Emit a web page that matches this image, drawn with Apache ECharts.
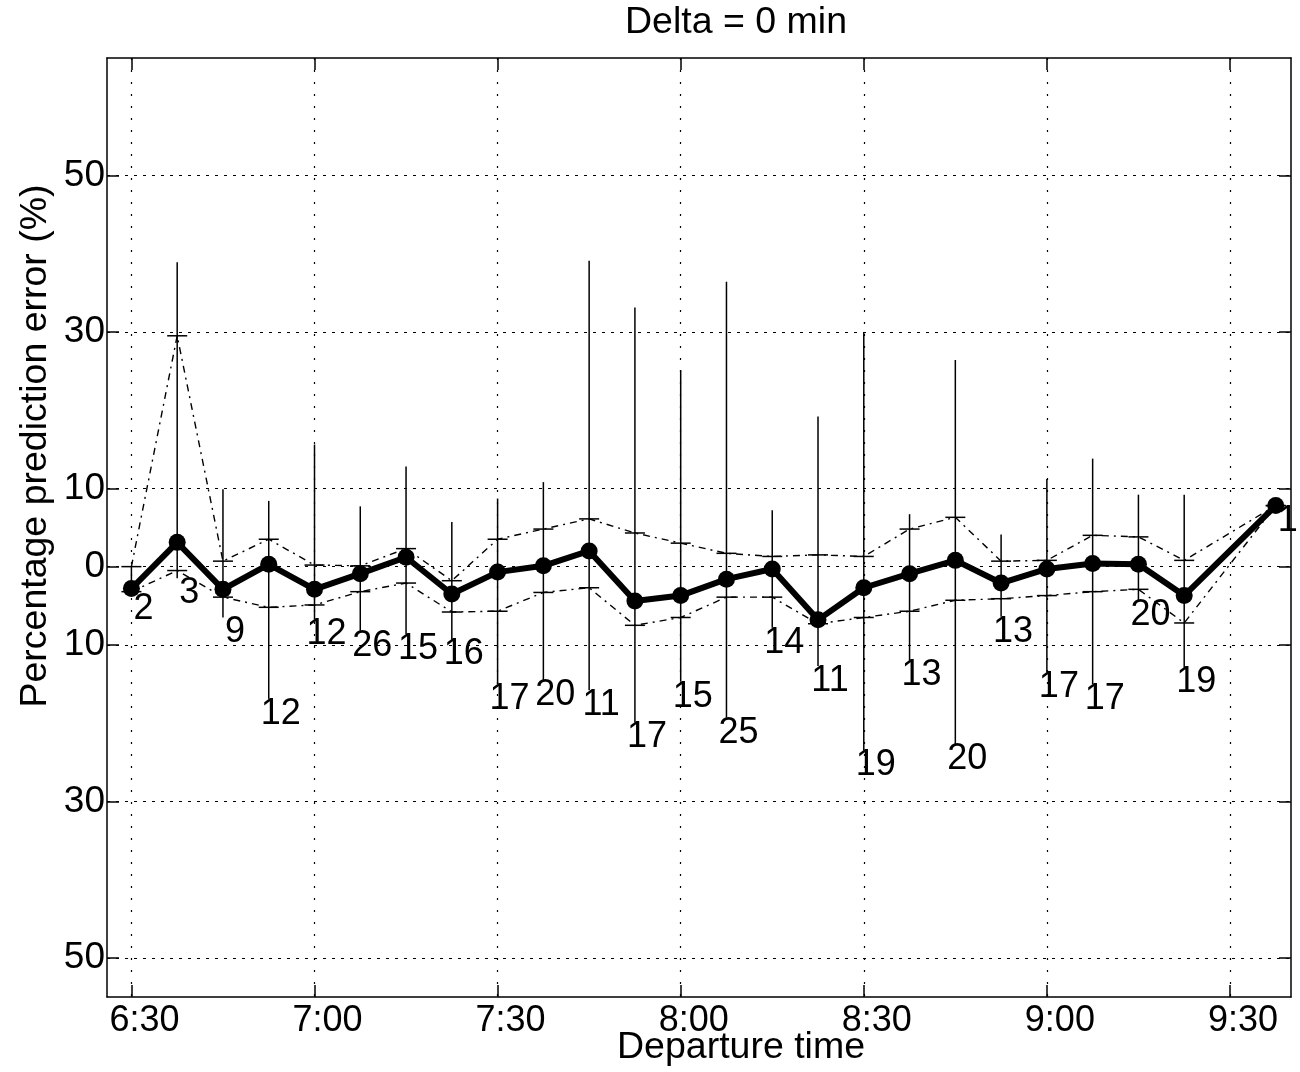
<!DOCTYPE html>
<html>
<head>
<meta charset="utf-8">
<script src="https://cdn.jsdelivr.net/npm/echarts@6/dist/echarts.min.js"></script>
<style>
  html, body { margin: 0; padding: 0; background: #fff; }
  #chart { width: 1300px; height: 1072px; }
</style>
</head>
<body>
<div id="chart"></div>
<script>
// ---- data (departure time in minutes after midnight) ----
const depMinutes = [390, 397.5, 405, 412.5, 420, 427.5, 435, 442.5, 450, 457.5, 465, 472.5, 480,
                    487.5, 495, 502.5, 510, 517.5, 525, 532.5, 540, 547.5, 555, 562.5, 577.5];
const counts   = [2, 3, 9, 12, 12, 26, 15, 16, 17, 20, 11, 17, 15, 25, 14, 11, 19, 13, 20, 13, 17, 17, 20, 19, 1];
const meanErr  = [-2.8, 3.1, -2.9, 0.3, -2.9, -0.9, 1.2, -3.5, -0.7, 0.1, 2.0, -4.4, -3.7, -1.6, -0.3, -6.8,
                  -2.7, -0.9, 0.8, -2.1, -0.3, 0.4, 0.3, -3.7, 7.8];
const upperErr = [0.0, 29.5, 0.7, 3.5, 0.2, 0.1, 2.3, -1.8, 3.5, 4.8, 6.1, 4.3, 3.0, 1.7, 1.3, 1.5,
                  1.3, 4.8, 6.3, 0.7, 0.8, 4.0, 3.8, 0.8, 7.8];
const lowerErr = [-3.2, -0.5, -3.9, -5.2, -4.9, -3.2, -2.1, -5.8, -5.7, -3.3, -2.7, -7.5, -6.5, -3.9, -3.9, -7.3,
                  -6.5, -5.7, -4.3, -4.1, -3.7, -3.2, -2.9, -7.2, 7.8];
const maxErr   = [0.0, 38.9, 9.9, 8.4, 15.6, 7.7, 12.8, 5.7, 8.7, 10.8, 39.1, 33.1, 25.1, 36.4, 7.2, 19.2,
                  29.9, 6.7, 26.4, 4.1, 11.2, 13.8, 9.2, 9.2, 7.8];
const minErr   = [-3.5, -1.5, -6.5, -16.9, -6.7, -8.2, -8.6, -9.3, -15.0, -14.5, -15.8, -19.9, -14.7, -19.3, -7.8, -12.7,
                  -23.5, -12.0, -22.7, -6.4, -13.5, -15.0, -4.3, -12.9, 7.8];

const xTickValues = [390, 420, 450, 480, 510, 540, 570];
const xTickLabels = ['6:30', '7:00', '7:30', '8:00', '8:30', '9:00', '9:30'];
const yTickValues = [-50, -30, -10, 0, 10, 30, 50];
const yTickLabels = ['50', '30', '10', '0', '10', '30', '50'];

const titleText = 'Delta = 0 min';
const xName = 'Departure time';
const yName = 'Percentage prediction error (%)';

// ---- chart ----
const FONT = '"Liberation Sans", Arial, Helvetica, sans-serif';
const chart = echarts.init(document.getElementById('chart'), null, { renderer: 'canvas' });

const rangeData = depMinutes.map((t, i) => [t, minErr[i], maxErr[i], upperErr[i], lowerErr[i]]);
const labelData = depMinutes.map((t, i) => [t, minErr[i], counts[i]]);

const axisLineStyle = { color: '#000', width: 1.5 };

const option = {
  animation: false,
  backgroundColor: '#fff',
  grid: { left: 107, right: 9, top: 58, bottom: 75, containLabel: false },
  xAxis: [
    {
      type: 'value', min: 386, max: 580, position: 'bottom',
      axisLine: { show: true, onZero: false, lineStyle: axisLineStyle },
      axisTick: { show: true, inside: true, length: 12, customValues: xTickValues, lineStyle: axisLineStyle },
      axisLabel: {
        customValues: xTickValues,
        formatter: v => xTickLabels[xTickValues.indexOf(v)],
        color: '#000', fontSize: 36, fontFamily: FONT, margin: 6,
        padding: [0, 0, 0, 26]
      },
      splitLine: { show: true, lineStyle: { color: '#000', width: 1.2, type: [2, 10] } }
    },
    {
      type: 'value', min: 386, max: 580, position: 'top',
      axisLine: { show: true, onZero: false, lineStyle: axisLineStyle },
      axisTick: { show: true, inside: true, length: 12, customValues: xTickValues, lineStyle: axisLineStyle },
      axisLabel: { show: false },
      splitLine: { show: false }
    }
  ],
  yAxis: [
    {
      type: 'value', min: -55, max: 65, position: 'left',
      axisLine: { show: true, onZero: false, lineStyle: axisLineStyle },
      axisTick: { show: true, inside: true, length: 12, customValues: yTickValues, lineStyle: axisLineStyle },
      axisLabel: {
        customValues: yTickValues,
        formatter: v => yTickLabels[yTickValues.indexOf(v)],
        color: '#000', fontSize: 37, fontFamily: FONT, margin: 2
      },
      splitLine: { show: true, lineStyle: { color: '#000', width: 1.2, type: [3, 6] } }
    },
    {
      type: 'value', min: -55, max: 65, position: 'right',
      axisLine: { show: true, onZero: false, lineStyle: axisLineStyle },
      axisTick: { show: true, inside: true, length: 12, customValues: yTickValues, lineStyle: axisLineStyle },
      axisLabel: { show: false },
      splitLine: { show: false }
    }
  ],
  graphic: [
    { type: 'text', x: 736, y: 23, style: { text: titleText, fill: '#000', fontSize: 37.5, fontFamily: FONT, align: 'center', verticalAlign: 'middle' } },
    { type: 'text', x: 741, y: 1048, style: { text: xName, fill: '#000', fontSize: 37.5, fontFamily: FONT, align: 'center', verticalAlign: 'middle' } },
    { type: 'text', x: 36, y: 446, rotation: Math.PI / 2, style: { text: yName, fill: '#000', fontSize: 37.5, fontFamily: FONT, align: 'center', verticalAlign: 'middle' } }
  ],
  series: [
    {
      type: 'custom', name: 'range',
      data: rangeData,
      z: 2,
      renderItem: (params, api) => {
        const x = api.value(0);
        const a = api.coord([x, api.value(1)]);
        const b = api.coord([x, api.value(2)]);
        const u = api.coord([x, api.value(3)]);
        const l = api.coord([x, api.value(4)]);
        const st = { stroke: '#000', lineWidth: 1.5 };
        return {
          type: 'group',
          children: [
            { type: 'line', shape: { x1: a[0], y1: a[1], x2: b[0], y2: b[1] }, style: st },
            { type: 'line', shape: { x1: u[0] - 10, y1: u[1], x2: u[0] + 10, y2: u[1] }, style: st },
            { type: 'line', shape: { x1: l[0] - 10, y1: l[1], x2: l[0] + 10, y2: l[1] }, style: st }
          ]
        };
      }
    },
    {
      type: 'line', name: 'upper',
      data: depMinutes.map((t, i) => [t, upperErr[i]]),
      showSymbol: false, symbol: 'none', z: 3,
      lineStyle: { color: '#000', width: 1.4, type: [7, 5, 2, 5] }
    },
    {
      type: 'line', name: 'lower',
      data: depMinutes.map((t, i) => [t, lowerErr[i]]),
      showSymbol: false, symbol: 'none', z: 3,
      lineStyle: { color: '#000', width: 1.4, type: [7, 5, 2, 5] }
    },
    {
      type: 'line', name: 'mean',
      data: depMinutes.map((t, i) => [t, meanErr[i]]),
      symbol: 'circle', symbolSize: 17, z: 5,
      itemStyle: { color: '#000' },
      lineStyle: { color: '#000', width: 6 }
    },
    {
      type: 'custom', name: 'count',
      data: labelData,
      z: 6,
      renderItem: (params, api) => {
        const p = api.coord([api.value(0), api.value(1)]);
        return {
          type: 'text',
          x: p[0] + 12, y: p[1] - 3,
          style: {
            text: String(api.value(2)), fill: '#000',
            fontSize: 36, fontFamily: FONT, align: 'center', verticalAlign: 'top'
          }
        };
      }
    }
  ]
};
chart.setOption(option);
</script>
</body>
</html>
